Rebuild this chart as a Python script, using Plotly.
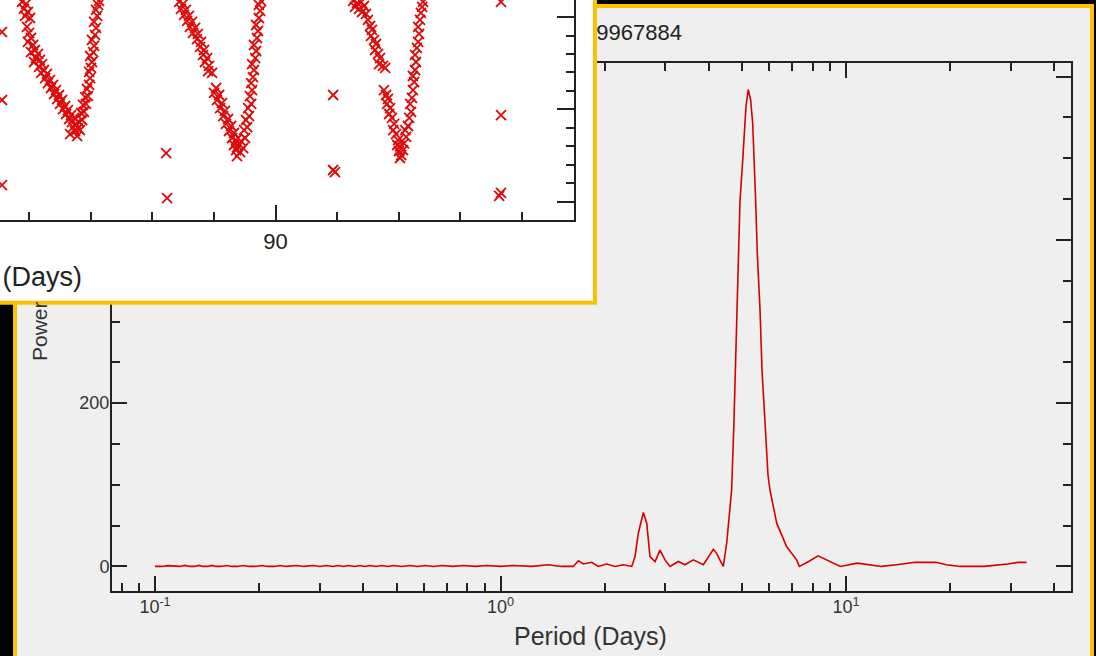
import plotly.graph_objects as go

W, H = 1096, 656

# ---------------- periodogram data ----------------
period_days = [0.100, 0.105, 0.109, 0.114, 0.118, 0.122, 0.126, 0.130, 0.134, 0.138,
               0.142, 0.146, 0.150, 0.155, 0.161, 0.167, 0.173, 0.180, 0.187, 0.195,
               0.204, 0.212, 0.221, 0.230, 0.240, 0.257, 0.270, 0.287, 0.300, 0.314,
               0.327, 0.339, 0.351, 0.363, 0.378, 0.392, 0.405, 0.419, 0.436, 0.453,
               0.471, 0.490, 0.518, 0.547, 0.575, 0.605, 0.640, 0.676, 0.728, 0.780,
               0.846, 0.912, 1.000, 1.089, 1.230, 1.375, 1.500, 1.624, 1.680, 1.737,
               1.836, 1.919, 2.029, 2.145, 2.267, 2.398, 2.451, 2.506, 2.591, 2.650,
               2.708, 2.801, 2.895, 2.993, 3.094, 3.271, 3.420, 3.614, 3.864, 4.130,
               4.224, 4.338, 4.414, 4.516, 4.616, 4.667, 4.740, 4.804, 4.869, 4.934,
               5.023, 5.077, 5.135, 5.214, 5.299, 5.370, 5.416, 5.478, 5.537, 5.638,
               5.714, 5.829, 5.946, 6.026, 6.302, 6.735, 7.197, 7.325, 7.800, 8.300,
               8.800, 9.200, 9.630, 10.79, 12.66, 14.00, 15.90, 18.20, 19.50, 21.40,
               25.10, 29.40, 31.50, 33.30]
power = [0, 0, 1, 0, 0, 1.2, 0, 0, 1.2, 0,
         0, 1.2, 0, 0, 1.2, 0, 0, 1.2, 0, 0,
         1.2, 0, 0, 1.2, 0, 1.2, 0, 1.2, 0, 1.2,
         0, 1.2, 0, 1.2, 0, 1.2, 0, 1.2, 0, 1.2,
         0, 1.2, 0, 1.2, 0, 1.2, 0, 1.2, 0, 1.2,
         0, 1.2, 0, 1.2, 0, 2, 0, 0, 7, 3,
         5, 0, 3, 0, 2, 0, 12, 41, 66, 53,
         12, 6, 20, 8, 0, 6, 2, 8, 2, 21,
         16, 6, 0, 29, 69, 94, 179, 277, 375, 448,
         497, 534, 564, 584, 571, 542, 506, 446, 383, 314,
         240, 167, 112, 93, 53, 24, 8, 0, 6, 13,
         8, 4, 0, 4, 0, 2, 5, 5, 2, 0,
         0, 3, 5, 5]

x_major_vals = [0.1, 1, 10]
x_major_text = ["10<sup>-1</sup>", "10<sup>0</sup>", "10<sup>1</sup>"]
x_minor_vals = [0.08, 0.09, 0.2, 0.3, 0.4, 0.5, 0.6, 0.7, 0.8, 0.9,
                2, 3, 4, 5, 6, 7, 8, 9, 20, 30, 40]
y_major_vals = [0, 200, 400, 600]

title_text = "KIC 9967884"

# ---------------- light curve inset data ----------------
lc_time = [
    # first dip
    81.77, 81.90, 81.83, 81.96, 81.87, 82.03, 81.93, 82.00, 82.06, 81.96,
    82.13, 82.19, 82.06, 82.29, 82.22, 82.35, 82.16, 82.42, 82.32, 82.48,
    82.39, 82.58, 82.52, 82.68, 82.61, 82.78, 82.71, 82.87, 82.81, 82.97,
    82.91, 83.07, 83.00, 83.17, 83.10, 83.26, 83.20, 83.36, 83.30, 83.46,
    83.39, 83.52, 83.43, 83.59, 83.49, 83.33, 83.56,
    83.65, 83.62, 83.72, 83.69, 83.78, 83.75, 83.85, 83.82, 83.91, 83.88,
    83.95, 83.98, 83.95, 84.01, 84.04, 83.98, 84.08, 84.11, 84.04, 84.14,
    84.17, 84.11, 84.21, 84.17, 84.24, 84.27,
    # second dip
    86.87, 87.00, 86.93, 87.09, 87.03, 87.19, 87.13, 87.29, 87.22, 87.39,
    87.32, 87.48, 87.45, 87.58, 87.55, 87.68, 87.65, 87.78, 87.71, 87.84,
    87.81, 87.94, 88.07, 88.00, 88.17, 88.10, 88.26, 88.20, 88.36, 88.30,
    88.46, 88.39, 88.56, 88.49, 88.65, 88.59, 88.72, 88.65, 88.78, 88.72,
    88.85, 88.75,
    88.95, 88.88, 89.01, 88.98, 89.08, 89.04, 89.14, 89.11, 89.21, 89.17,
    89.24, 89.21, 89.27, 89.30, 89.24, 89.34, 89.37, 89.30, 89.40, 89.43,
    89.37, 89.46, 89.50, 89.46, 89.53,
    # third dip
    92.52, 92.65, 92.78, 92.58, 92.71, 92.87, 92.81, 92.94, 93.00, 93.07,
    93.13, 93.10, 93.20, 93.26, 93.23, 93.33, 93.39, 93.36, 93.49, 93.56,
    93.52, 93.59, 93.65, 93.62, 93.72, 93.69, 93.78, 93.85, 93.82, 93.91,
    93.98, 93.95, 94.04, 94.01, 94.08, 94.14, 94.04,
    94.17, 94.24, 94.21, 94.30, 94.34, 94.40, 94.37, 94.43, 94.46, 94.50,
    94.46, 94.53, 94.56, 94.53, 94.59, 94.63, 94.66, 94.63, 94.69, 94.72,
    94.76, 94.79,
    # sparse points
    81.12, 81.12, 81.12, 86.45, 86.48, 91.87, 91.87, 91.93,
    97.32, 97.32, 97.32, 97.26,
]
lc_flux = [
    11.64, 11.42, 10.88, 10.55, 10.12, 9.90, 8.93, 8.28, 7.73, 7.30,
    6.97, 6.43, 6.21, 6.00, 5.56, 5.35, 5.13, 4.91, 4.59, 4.26,
    3.94, 3.83, 3.39, 3.18, 2.85, 2.64, 2.31, 2.09, 1.66, 1.55,
    1.11, 1.01, 0.58, 0.36, 0.03, -0.08, -0.51, -0.62, -1.05, -0.94,
    -1.38, -1.59, -1.92, -2.03, -2.35, -2.68, -2.90,
    -2.25, -1.38, -1.16, -0.40, -0.29, 0.47, 0.58, 1.33, 1.44, 2.20,
    2.64, 3.39, 4.05, 4.48, 5.13, 5.78, 6.21, 6.87, 7.52, 8.06,
    8.82, 9.47, 10.12, 10.77, 11.31, 11.75,
    11.64, 11.42, 10.88, 10.77, 10.23, 10.12, 9.58, 9.47, 8.93, 8.82,
    8.28, 8.17, 7.62, 7.30, 6.76, 6.43, 5.89, 5.56, 5.13, 4.70,
    4.15, 3.94, 2.31, 1.77, 1.55, 1.01, 0.68, 0.14, -0.18, -0.73,
    -1.05, -1.59, -1.81, -2.35, -2.57, -3.11, -3.33, -3.87, -3.98, -4.42,
    -4.64, -5.07,
    -4.20, -3.44, -3.11, -2.25, -1.92, -1.16, -0.73, 0.14, 0.58, 1.44,
    2.09, 2.85, 3.50, 4.26, 4.91, 5.56, 6.32, 6.97, 7.73, 8.49,
    9.14, 9.90, 10.66, 11.31, 11.75,
    11.75, 11.53, 11.64, 11.10, 10.88, 11.20, 10.55, 10.34, 9.69, 9.03,
    8.60, 7.95, 7.52, 7.08, 6.43, 6.00, 5.56, 4.91, 4.70, 4.48,
    2.09, 1.55, 1.12, 0.58, 0.14, -0.51, -0.94, -1.59, -2.25, -2.68,
    -3.33, -3.87, -3.98, -4.52, -4.96, -4.42, -5.28,
    -3.69, -3.00, -2.25, -1.81, -0.94, -0.29, 0.58, 1.23, 2.09, 2.96,
    3.61, 4.26, 5.13, 5.89, 6.65, 7.30, 8.17, 8.93, 9.69, 10.45,
    11.10, 11.64,
    8.38, 1.01, -8.21, -4.74, -9.62, 1.55, -6.58, -6.80,
    11.64, -0.62, -9.06, -9.39,
]

# ---------------- styling ----------------
FONT = "Liberation Sans, Arial, Helvetica, sans-serif"
INK = "#222222"
LABEL = "#333333"
ORANGE = "#ffc000"
PANEL_GRAY = "#efefef"
RED = "#d40000"


def fx(px):
    return px / W


def fy(py):
    return 1 - py / H


# main (periodogram) plot box in pixels
M_L, M_R, M_T, M_B = 112, 1071, 62.7, 590.5
XR = [-1.1245, 1.6512]
YR = [-29.5, 617.0]

# title strip (its own subplot, drawn beneath the inset card)
T_L, T_R, T_T, T_B = 0, 700, 12, 56
TITLE_RIGHT_PX, TITLE_MID_PX = 682, 34

# inset plot box in pixels (left/top run off the page)
I_R, I_B = 574, 220
IXR = [81.055, 99.69]
IYR = [-12.0, 11.85]

# inset card extent
P_R, P_B = 610, 312
CARD_RIGHT_PX, CARD_BOTTOM_PX = 595, 302.7

fig = go.Figure()

# 1) periodogram
fig.add_trace(go.Scatter(
    x=period_days, y=power, mode="lines",
    line=dict(color=RED, width=1.6), xaxis="x", yaxis="y",
    hoverinfo="skip", showlegend=False))

# 2) periodogram title (partly hidden by the inset card)
fig.add_trace(go.Scatter(
    x=[(TITLE_RIGHT_PX - T_L) / (T_R - T_L)],
    y=[(T_B - TITLE_MID_PX) / (T_B - T_T)],
    mode="text", text=[title_text], textposition="middle left",
    textfont=dict(family=FONT, size=22, color=INK),
    xaxis="x2", yaxis="y2", hoverinfo="skip", showlegend=False))

# 3) placeholder trace that creates the inset-card subplot
fig.add_trace(go.Scatter(x=[None], y=[None], xaxis="x3", yaxis="y3",
                         showlegend=False, hoverinfo="skip"))

# 4) light curve
fig.add_trace(go.Scatter(
    x=lc_time, y=lc_flux, mode="markers", xaxis="x4", yaxis="y4",
    marker=dict(symbol="x-thin", size=10, color="#dd0a0a",
                line=dict(color="#dd0a0a", width=1.8)),
    hoverinfo="skip", showlegend=False))

axis_common = dict(showgrid=False, zeroline=False, showline=True,
                   linecolor=INK, linewidth=2, tickcolor=INK, tickwidth=2,
                   ticks="inside")

fig.update_layout(
    width=W, height=H,
    margin=dict(l=0, r=0, t=0, b=0),
    paper_bgcolor="#000000",
    plot_bgcolor="rgba(0,0,0,0)",
    font=dict(family=FONT, color=LABEL),
    xaxis=dict(
        **axis_common, type="log", range=XR,
        domain=[fx(M_L), fx(M_R)], anchor="y", mirror="ticks",
        tickvals=x_major_vals, ticktext=x_major_text, ticklen=15,
        ticklabelstandoff=-1,
        tickfont=dict(family=FONT, size=18, color=LABEL),
        minor=dict(tickvals=x_minor_vals, ticks="inside", ticklen=8,
                   tickwidth=2, tickcolor=INK, showgrid=False),
    ),
    yaxis=dict(
        **axis_common, range=YR,
        domain=[fy(M_B), fy(M_T)], anchor="x", mirror="ticks",
        tickvals=y_major_vals, ticklen=15, ticklabelstandoff=-3,
        tickfont=dict(family=FONT, size=18, color=LABEL),
        minor=dict(dtick=50, ticks="inside", ticklen=8, tickwidth=2,
                   tickcolor=INK, showgrid=False),
    ),
    xaxis2=dict(domain=[fx(T_L), fx(T_R)], range=[0, 1], anchor="y2",
                visible=False, fixedrange=True),
    yaxis2=dict(domain=[fy(T_B), fy(T_T)], range=[0, 1], anchor="x2",
                visible=False, fixedrange=True),
    xaxis3=dict(domain=[0, fx(P_R)], range=[0, 1], anchor="y3", visible=False,
                fixedrange=True),
    yaxis3=dict(domain=[fy(P_B), 1], range=[0, 1], anchor="x3", visible=False,
                fixedrange=True),
    xaxis4=dict(
        **axis_common, range=IXR, domain=[0, fx(I_R)], anchor="y4",
        tick0=0, dtick=10, ticklen=15, ticklabelstandoff=1,
        tickfont=dict(family=FONT, size=22, color=INK),
        minor=dict(dtick=2, ticks="inside", ticklen=8, tickwidth=2,
                   tickcolor=INK, showgrid=False),
    ),
    yaxis4=dict(
        **axis_common, range=IYR, domain=[fy(I_B), 1], anchor="x4",
        side="right", tick0=0, dtick=10, ticklen=17, showticklabels=False,
        minor=dict(dtick=2, ticks="inside", ticklen=8, tickwidth=2,
                   tickcolor=INK, showgrid=False),
    ),
    shapes=[
        # grey periodogram card with orange frame
        dict(type="rect", xref="paper", yref="paper", layer="below",
             x0=fx(15), x1=fx(1092), y0=-0.05, y1=fy(6),
             fillcolor=PANEL_GRAY, line=dict(color=ORANGE, width=4)),
        # white inset card with orange frame (lives in its own subplot so it
        # covers the periodogram's axes and title)
        dict(type="rect", xref="x3", yref="y3", layer="below",
             x0=-0.1, x1=CARD_RIGHT_PX / P_R,
             y0=(P_B - CARD_BOTTOM_PX) / P_B, y1=1.1,
             fillcolor="#ffffff", line=dict(color=ORANGE, width=4)),
    ],
    annotations=[
        dict(text="Power", textangle=-90, xref="paper", yref="paper",
             xanchor="center", yanchor="middle",
             x=fx(40), y=fy(331), showarrow=False,
             font=dict(family=FONT, size=21, color=LABEL)),
        dict(text="Period (Days)", xref="paper", yref="paper",
             xanchor="center", yanchor="middle",
             x=fx(590.5), y=fy(636), showarrow=False,
             font=dict(family=FONT, size=25, color=LABEL)),
        dict(text="Time (Days)", xref="paper", yref="paper",
             xanchor="right", yanchor="middle",
             x=fx(84), y=fy(277), showarrow=False,
             font=dict(family=FONT, size=27, color=INK)),
    ],
)

fig.write_html("out.html")
